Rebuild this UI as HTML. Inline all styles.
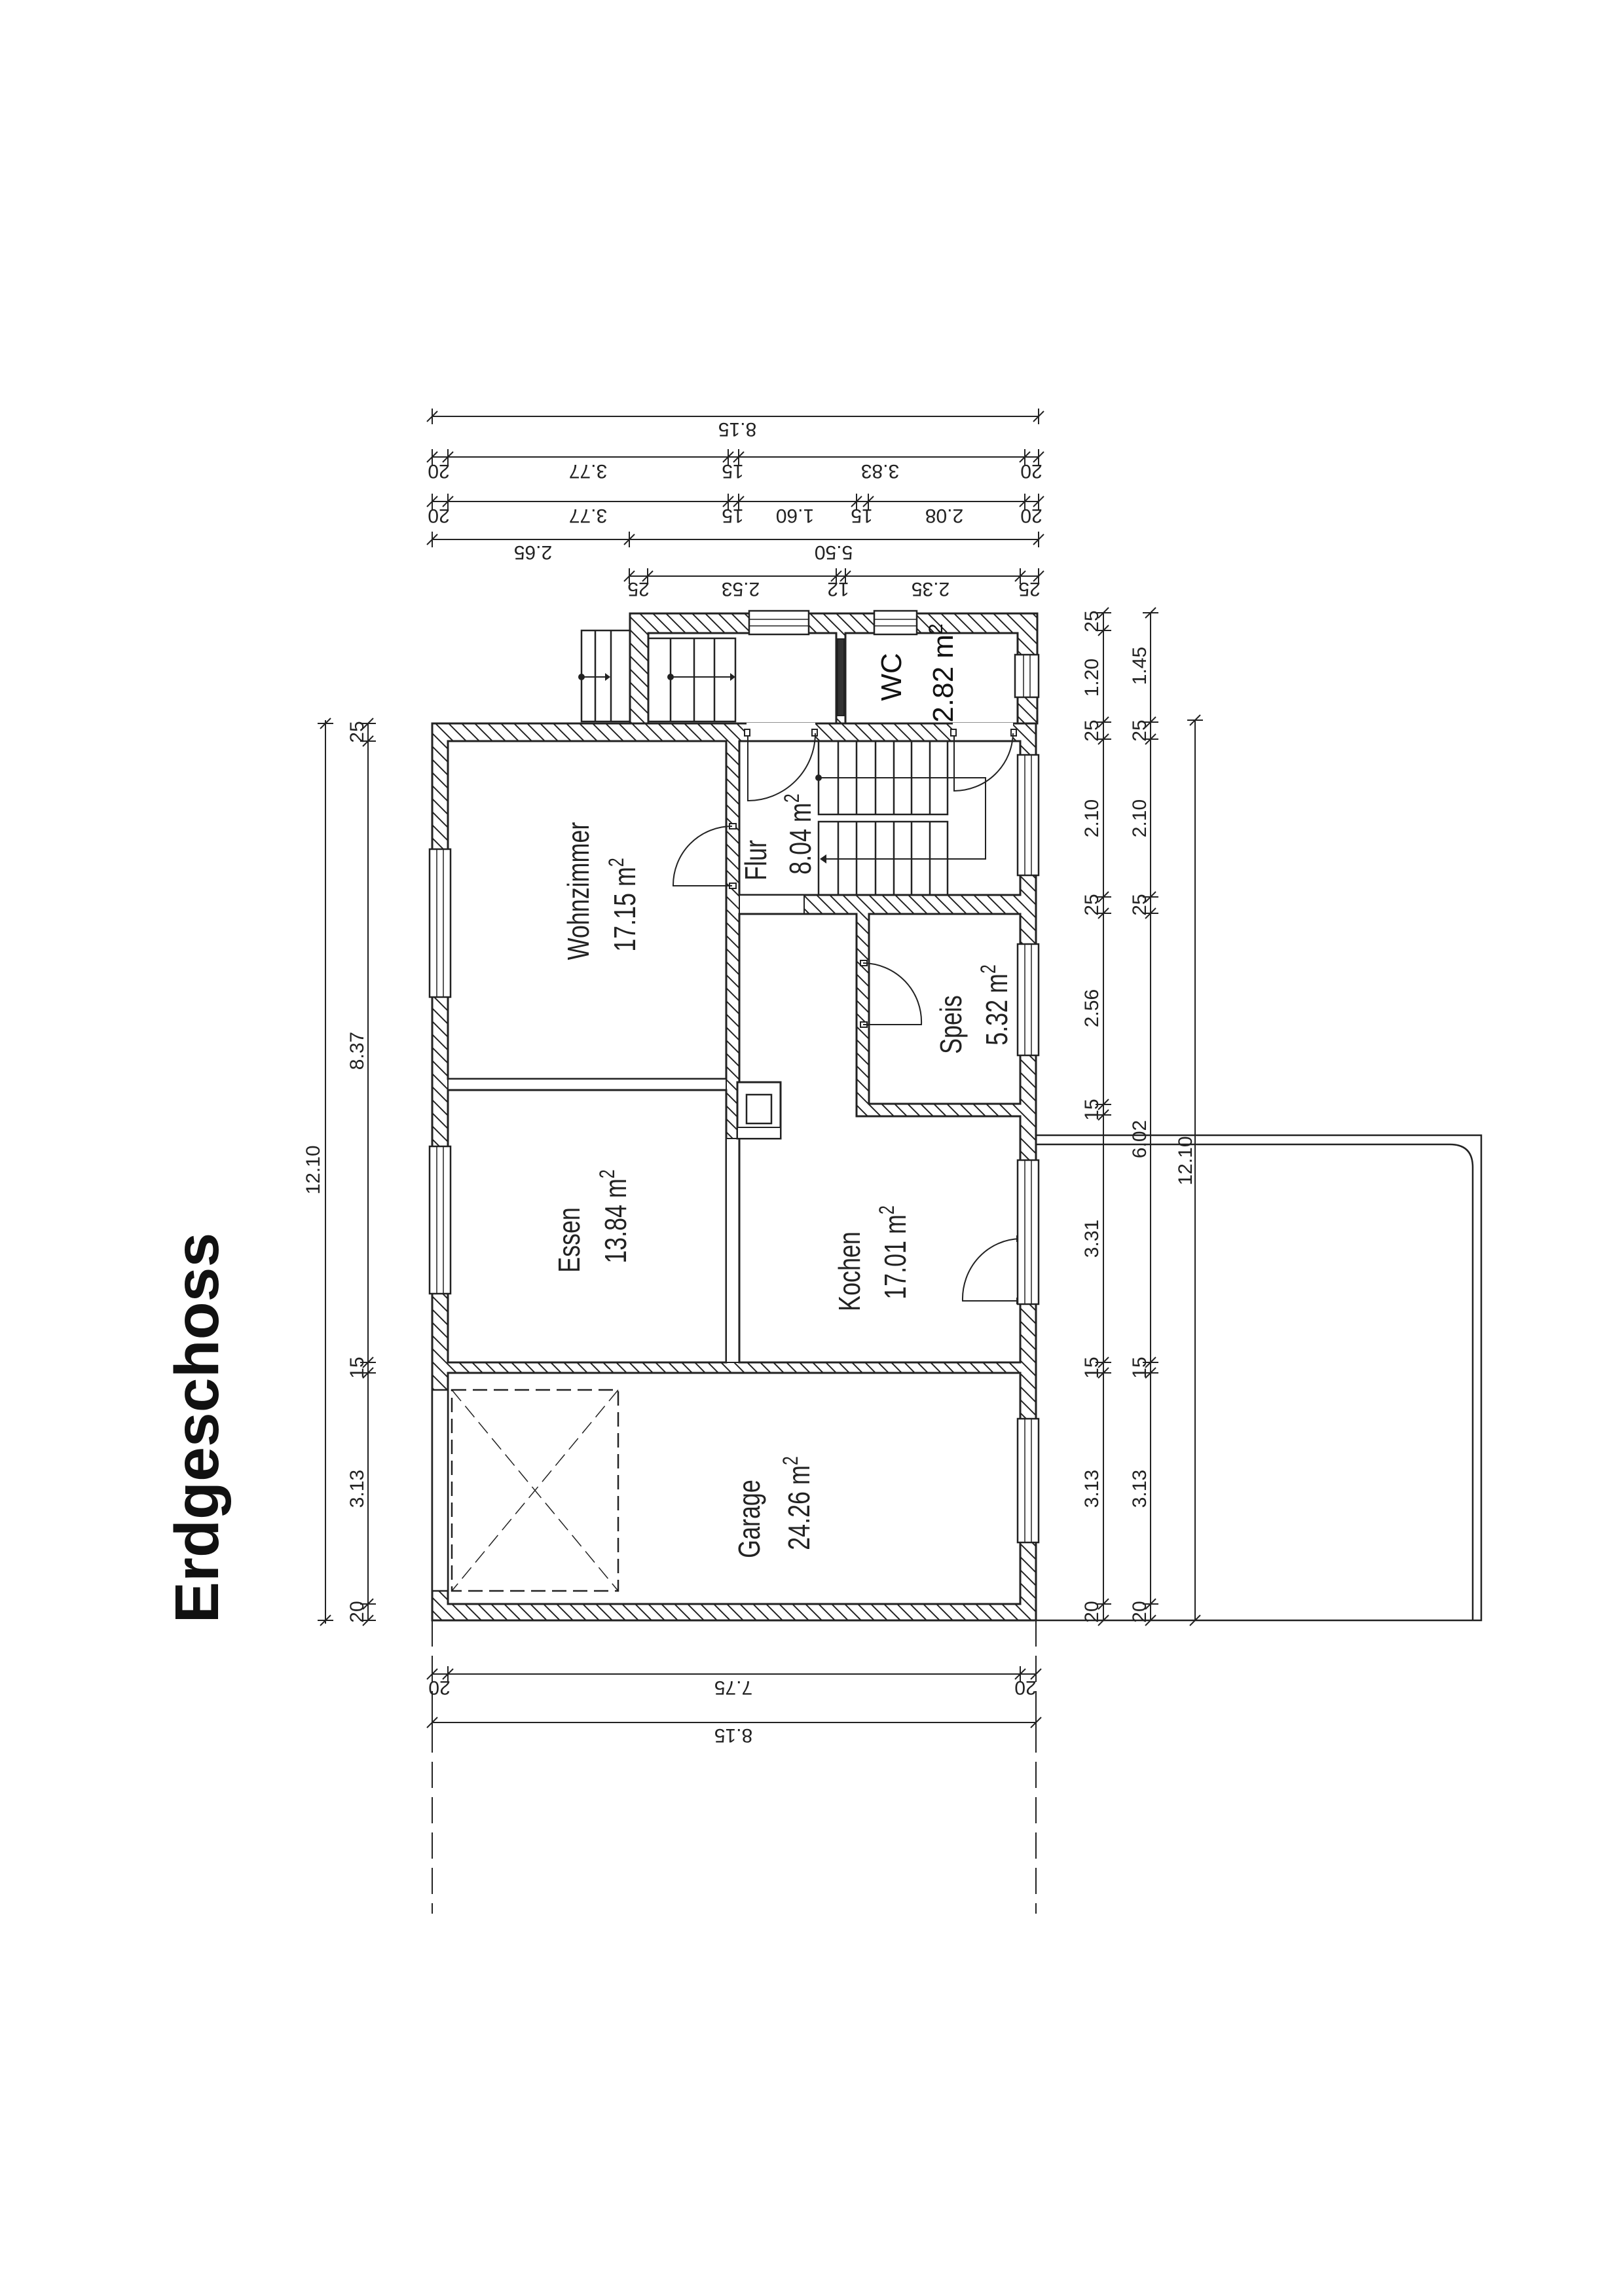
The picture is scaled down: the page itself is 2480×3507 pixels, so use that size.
<!DOCTYPE html>
<html><head><meta charset="utf-8"><style>
html,body{margin:0;padding:0;background:#fff}
svg{display:block}
.d{font-family:"Liberation Sans Narrow","Liberation Sans",sans-serif;font-size:30px;fill:#222}
.r{font-family:"Liberation Sans",sans-serif;font-size:46px;fill:#222}
</style></head><body>
<svg width="2480" height="3507" viewBox="0 0 2480 3507" xmlns="http://www.w3.org/2000/svg">
<defs>
<pattern id="h" patternUnits="userSpaceOnUse" width="20" height="20">
<path d="M-2,-2 L22,22 M-2,18 L2,22 M18,-2 L22,2" stroke="#222" stroke-width="2"/>
</pattern>
<symbol id="th" overflow="visible"><path d="M-8,8 L8,-8 M0,-12 V12" stroke="#222" stroke-width="2" fill="none"/></symbol>
<symbol id="tv" overflow="visible"><path d="M-8,8 L8,-8 M-12,0 H12" stroke="#222" stroke-width="2" fill="none"/></symbol>
</defs>
<rect width="2480" height="3507" fill="#fff"/>

<text transform="translate(333,2181) rotate(-90)" text-anchor="middle" font-family="Liberation Sans, sans-serif" font-weight="bold" font-size="95" fill="#111">Erdgeschoss</text>

<g stroke="#222" stroke-width="3" fill="#fff">
<rect x="660" y="1105" width="922" height="1370" fill="url(#h)"/>
<rect x="962" y="937" width="622" height="168" fill="url(#h)"/>
<rect x="990" y="967" width="287" height="138"/>
<rect x="1291" y="967" width="263" height="138"/>
<rect x="1279" y="976" width="10" height="117" fill="#333" stroke-width="2"/>
<rect x="1140" y="1104" width="105" height="28" stroke="none"/>
<rect x="1455" y="1104" width="92" height="28" stroke="none"/>
<rect x="684" y="1132" width="425" height="516"/>
<rect x="684" y="1648" width="425" height="17" stroke-width="2"/>
<rect x="684" y="1665" width="425" height="416"/>
<rect x="1109" y="1739" width="20" height="342" stroke-width="2"/>
<rect x="1129" y="1132" width="429" height="235"/>
<rect x="1129" y="1367" width="99" height="29" stroke-width="2"/>
<path d="M1129,1396 H1308 V1705 H1558 V2081 H1129 Z"/>
<rect x="1327" y="1396" width="231" height="290"/>
<rect x="684" y="2097" width="874" height="353"/>
<rect x="1126" y="1653" width="66" height="86"/>
<rect x="1140" y="1672" width="38" height="44" stroke-width="2.5"/>
<rect x="1126" y="1722" width="66" height="17" stroke-width="2"/>
</g>

<g stroke="#222" stroke-width="2" fill="#fff">
<rect x="1137" y="1114" width="8" height="10"/><rect x="1240" y="1114" width="8" height="10"/>
<rect x="1452" y="1114" width="8" height="10"/><rect x="1544" y="1114" width="8" height="10"/>
<rect x="1114" y="1258" width="10" height="8"/><rect x="1114" y="1349" width="10" height="8"/>
<rect x="1314" y="1467" width="10" height="8"/><rect x="1314" y="1561" width="10" height="8"/>
<rect x="1553" y="1888" width="10" height="8"/><rect x="1553" y="1983" width="10" height="8"/>
</g>
<g stroke="#222" stroke-width="2" fill="none">
<path d="M1142,1124 V1223 A103,103 0 0 0 1245,1120"/>
<path d="M1457,1124 V1208 A90,90 0 0 0 1547,1120"/>
<path d="M1118,1353 H1028 A90,90 0 0 1 1118,1262"/>
<path d="M1318,1565 H1407 A90,90 0 0 0 1318,1471"/>
<path d="M1558,1987 H1470 A90,92 0 0 1 1558,1892"/>
</g>

<g stroke="#222" stroke-width="2.5" fill="none">
<rect x="1250" y="1132" width="197" height="112"/>
<rect x="1250" y="1255" width="197" height="112"/>
<path d="M1280,1132V1244M1308,1132V1244M1337,1132V1244M1365,1132V1244M1392,1132V1244M1420,1132V1244"/>
<path d="M1280,1255V1367M1308,1255V1367M1337,1255V1367M1365,1255V1367M1392,1255V1367M1420,1255V1367"/>
<path d="M1250,1188 H1505 V1312 H1256" stroke-width="2"/>
</g>
<circle cx="1250" cy="1188" r="5" fill="#222"/>
<path d="M1252,1312 l10,-7 v14 z" fill="#222"/>

<g stroke="#222" stroke-width="2.5" fill="none">
<rect x="990" y="975" width="133" height="127"/>
<path d="M1024,975V1102M1060,975V1102M1091,975V1102"/>
<path d="M1024,1034 H1117" stroke-width="2"/>
<rect x="888" y="963" width="74" height="139"/>
<path d="M909,963V1102M933,963V1102"/>
<path d="M888,1034 H927" stroke-width="2"/>
</g>
<circle cx="1024" cy="1034" r="5" fill="#222"/><path d="M1123,1034 l-8,-6 v12z" fill="#222"/>
<circle cx="888" cy="1034" r="5" fill="#222"/><path d="M932,1034 l-8,-6 v12z" fill="#222"/>

<g stroke="#222" stroke-width="2.5" fill="#fff">
<rect x="656" y="1297" width="32" height="226"/><path d="M667,1297V1523M677,1297V1523" fill="none" stroke-width="1.5"/>
<rect x="656" y="1751" width="32" height="225"/><path d="M667,1751V1976M677,1751V1976" fill="none" stroke-width="1.5"/>
<rect x="1554" y="1153" width="32" height="184"/><path d="M1565,1153V1337M1575,1153V1337" fill="none" stroke-width="1.5"/>
<rect x="1554" y="1442" width="32" height="170"/><path d="M1565,1442V1612M1575,1442V1612" fill="none" stroke-width="1.5"/>
<rect x="1554" y="1772" width="32" height="220"/><path d="M1565,1772V1992M1575,1992V1772" fill="none" stroke-width="1.5"/>
<rect x="1554" y="2167" width="32" height="189"/><path d="M1565,2167V2356M1575,2167V2356" fill="none" stroke-width="1.5"/>
<rect x="1550" y="1000" width="36" height="65"/><path d="M1563,1000V1065M1573,1000V1065" fill="none" stroke-width="1.5"/>
<rect x="1144" y="933" width="91" height="36"/><path d="M1144,946H1235M1144,956H1235" fill="none" stroke-width="1.5"/>
<rect x="1335" y="933" width="65" height="36"/><path d="M1335,946H1400M1335,956H1400" fill="none" stroke-width="1.5"/>
<rect x="660" y="2123" width="24" height="307"/>
</g>
<g stroke="#222" stroke-width="2.5" fill="none" stroke-dasharray="22,10">
<rect x="690" y="2123" width="254" height="307"/>
<path d="M690,2123 L944,2430 M944,2123 L690,2430" stroke-width="1.5"/>
</g>

<g stroke="#222" stroke-width="2.5" fill="none">
<path d="M1582,1734 H2262 V2475 H1582"/>
<path d="M1582,1748 H2214 Q2249,1748 2249,1783 V2475"/>
</g>
<g stroke="#222" stroke-width="2" stroke-dasharray="40,14">
<path d="M660,2475 V2923 M1582,2475 V2923"/>
</g>

<g stroke="#222" stroke-width="2" fill="none">
<path d="M660,636 H1586 M660,698 H1586 M660,766 H1586 M660,824 H1586 M961,880 H1586"/>
<path d="M660,2557 H1582 M660,2631 H1582"/>
<path d="M497,1100 V2480 M562,1105 V2475"/>
<path d="M1685,936 V2475 M1757,936 V2475 M1825,1100 V2475"/>
</g>
<g>
<use href="#th" x="660" y="636"/><use href="#th" x="1586" y="636"/>
<use href="#th" x="660" y="698"/><use href="#th" x="684" y="698"/><use href="#th" x="1112" y="698"/><use href="#th" x="1128" y="698"/><use href="#th" x="1565" y="698"/><use href="#th" x="1586" y="698"/>
<use href="#th" x="660" y="766"/><use href="#th" x="684" y="766"/><use href="#th" x="1112" y="766"/><use href="#th" x="1128" y="766"/><use href="#th" x="1308" y="766"/><use href="#th" x="1326" y="766"/><use href="#th" x="1565" y="766"/><use href="#th" x="1586" y="766"/>
<use href="#th" x="660" y="824"/><use href="#th" x="961" y="824"/><use href="#th" x="1586" y="824"/>
<use href="#th" x="961" y="880"/><use href="#th" x="989" y="880"/><use href="#th" x="1277" y="880"/><use href="#th" x="1291" y="880"/><use href="#th" x="1558" y="880"/><use href="#th" x="1586" y="880"/>
<use href="#th" x="660" y="2557"/><use href="#th" x="684" y="2557"/><use href="#th" x="1558" y="2557"/><use href="#th" x="1582" y="2557"/>
<use href="#th" x="660" y="2631"/><use href="#th" x="1582" y="2631"/>
<use href="#tv" x="497" y="1105"/><use href="#tv" x="497" y="2475"/>
<use href="#tv" x="562" y="1105"/><use href="#tv" x="562" y="1132"/><use href="#tv" x="562" y="2081"/><use href="#tv" x="562" y="2097"/><use href="#tv" x="562" y="2450"/><use href="#tv" x="562" y="2475"/>
<use href="#tv" x="1685" y="936"/><use href="#tv" x="1685" y="963"/><use href="#tv" x="1685" y="1103"/><use href="#tv" x="1685" y="1129"/><use href="#tv" x="1685" y="1370"/><use href="#tv" x="1685" y="1395"/><use href="#tv" x="1685" y="1687"/><use href="#tv" x="1685" y="1703"/><use href="#tv" x="1685" y="2081"/><use href="#tv" x="1685" y="2097"/><use href="#tv" x="1685" y="2450"/><use href="#tv" x="1685" y="2475"/>
<use href="#tv" x="1757" y="936"/><use href="#tv" x="1757" y="1103"/><use href="#tv" x="1757" y="1129"/><use href="#tv" x="1757" y="1370"/><use href="#tv" x="1757" y="1395"/><use href="#tv" x="1757" y="2081"/><use href="#tv" x="1757" y="2097"/><use href="#tv" x="1757" y="2450"/><use href="#tv" x="1757" y="2475"/>
<use href="#tv" x="1825" y="1100"/><use href="#tv" x="1825" y="2475"/>
</g>

<g class="d" text-anchor="middle">
<text transform="translate(1126,646) rotate(180)">8.15</text>
<text transform="translate(670,710) rotate(180)">20</text><text transform="translate(898,710) rotate(180)">3.77</text><text transform="translate(1119,710) rotate(180)">15</text><text transform="translate(1344,710) rotate(180)">3.83</text><text transform="translate(1575,710) rotate(180)">20</text>
<text transform="translate(670,778) rotate(180)">20</text><text transform="translate(898,778) rotate(180)">3.77</text><text transform="translate(1119,778) rotate(180)">15</text><text transform="translate(1214,778) rotate(180)">1.60</text><text transform="translate(1316,778) rotate(180)">15</text><text transform="translate(1442,778) rotate(180)">2.08</text><text transform="translate(1575,778) rotate(180)">20</text>
<text transform="translate(814,834) rotate(180)">2.65</text><text transform="translate(1273,834) rotate(180)">5.50</text>
<text transform="translate(975,890) rotate(180)">25</text><text transform="translate(1131,890) rotate(180)">2.53</text><text transform="translate(1280,890) rotate(180)">12</text><text transform="translate(1421,890) rotate(180)">2.35</text><text transform="translate(1572,890) rotate(180)">25</text>
<text transform="translate(671,2568) rotate(180)">20</text><text transform="translate(1120,2568) rotate(180)">7.75</text><text transform="translate(1566,2568) rotate(180)">20</text>
<text transform="translate(1120,2641) rotate(180)">8.15</text>
</g>
<g class="d" text-anchor="middle">
<text transform="translate(488,1787) rotate(-90)">12.10</text>
<text transform="translate(555,1118) rotate(-90)">25</text><text transform="translate(555,1605) rotate(-90)">8.37</text><text transform="translate(555,2089) rotate(-90)">15</text><text transform="translate(555,2274) rotate(-90)">3.13</text><text transform="translate(555,2462) rotate(-90)">20</text>
<text transform="translate(1677,949) rotate(-90)">25</text><text transform="translate(1677,1035) rotate(-90)">1.20</text><text transform="translate(1677,1116) rotate(-90)">25</text><text transform="translate(1677,1250) rotate(-90)">2.10</text><text transform="translate(1677,1382) rotate(-90)">25</text><text transform="translate(1677,1540) rotate(-90)">2.56</text><text transform="translate(1677,1695) rotate(-90)">15</text><text transform="translate(1677,1892) rotate(-90)">3.31</text><text transform="translate(1677,2089) rotate(-90)">15</text><text transform="translate(1677,2274) rotate(-90)">3.13</text><text transform="translate(1677,2462) rotate(-90)">20</text>
<text transform="translate(1750,1017) rotate(-90)">1.45</text><text transform="translate(1750,1116) rotate(-90)">25</text><text transform="translate(1750,1250) rotate(-90)">2.10</text><text transform="translate(1750,1382) rotate(-90)">25</text><text transform="translate(1750,1740) rotate(-90)">6.02</text><text transform="translate(1750,2089) rotate(-90)">15</text><text transform="translate(1750,2274) rotate(-90)">3.13</text><text transform="translate(1750,2462) rotate(-90)">20</text>
<text transform="translate(1820,1773) rotate(-90)">12.10</text>
</g>

<g class="r" text-anchor="middle">
<text transform="translate(899,1361) rotate(-90) scale(0.78,1)">Wohnzimmer</text>
<text transform="translate(970,1382) rotate(-90) scale(0.78,1)">17.15  m<tspan dy="-18" font-size="32">2</tspan></text>
<text transform="translate(1170,1314) rotate(-90) scale(0.78,1)">Flur</text>
<text transform="translate(1238,1274) rotate(-90) scale(0.78,1)">8.04  m<tspan dy="-18" font-size="32">2</tspan></text>
<text transform="translate(885,1894) rotate(-90) scale(0.78,1)">Essen</text>
<text transform="translate(956,1858) rotate(-90) scale(0.78,1)">13.84  m<tspan dy="-18" font-size="32">2</tspan></text>
<text transform="translate(1313,1942) rotate(-90) scale(0.78,1)">Kochen</text>
<text transform="translate(1383,1913) rotate(-90) scale(0.78,1)">17.01  m<tspan dy="-18" font-size="32">2</tspan></text>
<text transform="translate(1468,1565) rotate(-90) scale(0.78,1)">Speis</text>
<text transform="translate(1538,1535) rotate(-90) scale(0.78,1)">5.32  m<tspan dy="-18" font-size="32">2</tspan></text>
<text transform="translate(1160,2320) rotate(-90) scale(0.78,1)">Garage</text>
<text transform="translate(1236,2296) rotate(-90) scale(0.78,1)">24.26  m<tspan dy="-18" font-size="32">2</tspan></text>
</g>
<g font-family="Liberation Sans, sans-serif" font-size="44" fill="#111" text-anchor="middle">
<text transform="translate(1376,1034) rotate(-90)">WC</text>
<text transform="translate(1455,1028) rotate(-90)">2.82  m<tspan dy="-16" font-size="30">2</tspan></text>
</g>
</svg>
</body></html>
